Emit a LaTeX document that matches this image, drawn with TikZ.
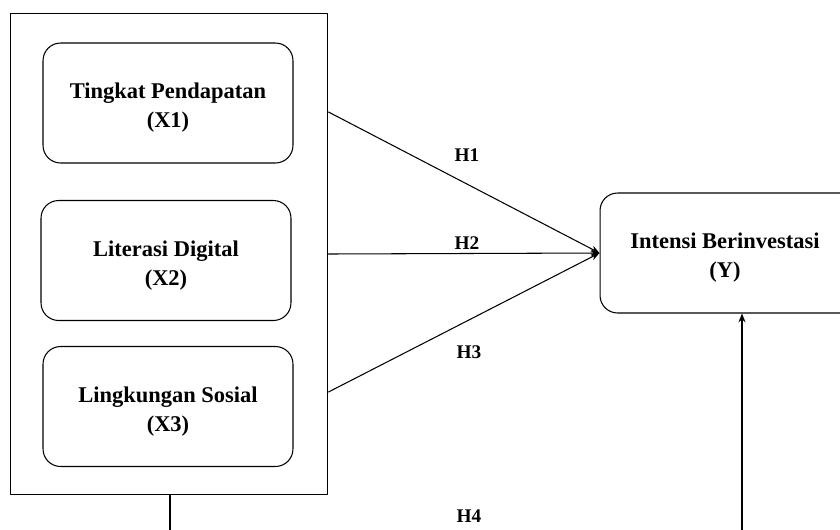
\documentclass[tikz,border=0pt]{standalone}
\usepackage{fontspec}
\setmainfont{Liberation Serif}
\usetikzlibrary{arrows.meta,positioning,calc}

\tikzset{
  varbox/.style={draw,rounded corners=10pt,line width=0.6pt,minimum width=5cm,minimum height=2.4cm,align=center,
    font=\bfseries\fontsize{12.8}{16.5}\selectfont,text height=30pt,text depth=2pt},
  hlabel/.style={font=\bfseries\fontsize{11}{13}\selectfont},
  arr/.style={-{Stealth[length=5pt,width=4pt]},line width=0.6pt}
}

\begin{document}
\begin{tikzpicture}[x=0.02cm,y=-0.02cm,line cap=round,line join=round]
\useasboundingbox (0,0) rectangle (840,529);
% outer frame with the three independent variables
\node [draw,line width=0.6pt,minimum width=6.36cm,minimum height=9.64cm] (outer) at (169,254) {};
\node [varbox] (x1) at (168,103) {Tingkat Pendapatan\\(X1)};
\node [varbox] (x2) at (166,260.5) {Literasi Digital\\(X2)};
\node [varbox] (x3) at (168,406.5) {Lingkungan Sosial\\(X3)};
% dependent variable (cut off at the right border)
\node [varbox,minimum width=5.5cm] (y) at (737.5,253) {Intensi Berinvestasi\hspace*{0.5cm}\\(Y)\hspace*{0.5cm}};
\coordinate (h1s) at (outer.east |- 0,112);
\coordinate (h2s) at (outer.east |- 0,254);
\coordinate (h3s) at (outer.east |- 0,392);
\coordinate (h4e) at (742,0 |- y.south);
\draw[arr] (h1s) -- (y.west);
\draw[arr] (h2s) -- (y.west);
\draw[arr] (h3s) -- (y.west);
\draw[arr] (170,0 |- outer.south) -- (170,545) -| (h4e);
\node [hlabel] (H1) at (467,155) {H1};
\node [hlabel] (H2) at (467,243) {H2};
\node [hlabel] (H3) at (469,352) {H3};
\node [hlabel] (H4) at (469,516) {H4};
\end{tikzpicture}
\end{document}
